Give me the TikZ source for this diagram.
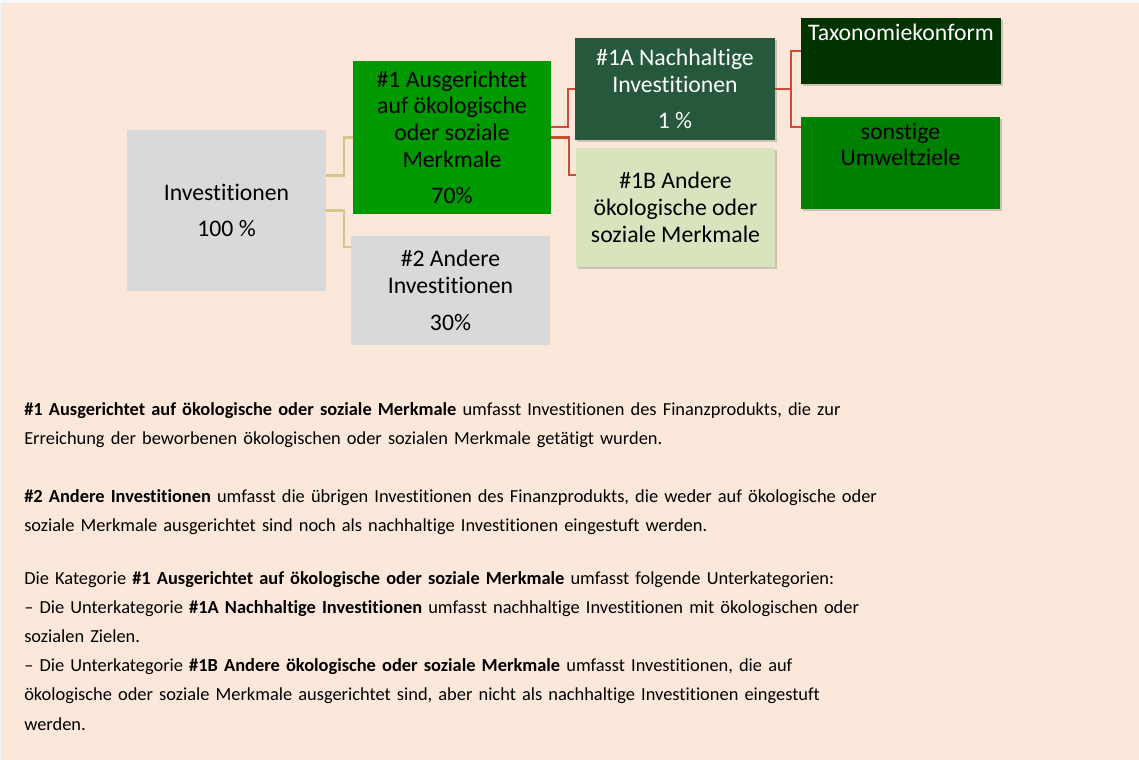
\documentclass[tikz,border=0pt]{standalone}
\usepackage{fontspec}
\setmainfont{Carlito}[Ligatures=NoCommon]
\usetikzlibrary{shadows}
\definecolor{peach}{HTML}{FBE8DA}
\definecolor{boxgray}{HTML}{D9D9D9}
\definecolor{greenA}{HTML}{009900}
\definecolor{greenB}{HTML}{26593C}
\definecolor{greenC}{HTML}{D7E4BD}
\definecolor{greenD}{HTML}{003300}
\definecolor{greenE}{HTML}{008000}
\definecolor{tanc}{HTML}{D8C58C}
\definecolor{redc}{HTML}{C8502F}
\begin{document}
\begin{tikzpicture}[x=0.75pt,y=-0.75pt,
  box/.style={rectangle, inner sep=0pt, align=center, font=\fontsize{17.8}{20}\selectfont},
  shade/.style={drop shadow={shadow xshift=1.2pt, shadow yshift=-1.2pt, opacity=0.3, fill=black!60}},
  tanline/.style={draw=tanc, line width=1.6pt},
  redline/.style={draw=redc, line width=1.6pt},
  note/.style={anchor=base west, inner sep=0pt, text width=840pt, align=left, font=\fontsize{13.8}{21.9}\selectfont}]
\useasboundingbox (0,0) rectangle (1139,760);
\fill[gray!6] (0,0) rectangle (1139,760);
\fill[peach] (1,3) rectangle (1139,760);

% first level
\node[box, fill=boxgray, minimum width=149.25pt, minimum height=120.75pt] (inv) at (226.5,210.5) {Investitionen\\[7.5pt]100 \%};
\node[box, fill=greenA, minimum width=148.5pt, minimum height=114.75pt] (one) at (452,137.5) {\#1 Ausgerichtet\\auf ökologische\\oder soziale\\Merkmale\\[7.5pt]70\%};
\node[box, fill=boxgray, minimum width=149.25pt, minimum height=81.75pt] (two) at (450.5,290.5) {\#2 Andere\\Investitionen\\[7.5pt]30\%};

% second level
\node[box, shade, fill=greenB, text=white, minimum width=150pt, minimum height=76.5pt] (onea) at (675,89) {\#1A Nachhaltige\\Investitionen\\[7.5pt]1 \%};
\node[box, shade, fill=greenC, minimum width=149.25pt, minimum height=89.25pt] (oneb) at (675.5,207.5) {\#1B Andere\\ökologische oder\\soziale Merkmale};

% third level
\node[box, shade, fill=greenD, minimum width=150pt, minimum height=49.5pt] (taxo) at (901,51) {};
\node[box, anchor=north, text=white] (taxot) at ([yshift=-4.5pt]taxo.north) {Taxonomiekonform};
\node[box, shade, fill=greenE, minimum width=149.25pt, minimum height=69pt] (sonst) at (900.5,163) {};
\node[box, anchor=north] (sonstt) at ([yshift=-4.5pt]sonst.north) {sonstige\\Umweltziele};

% connectors
\draw[tanline] ([yshift=26.25pt]inv.east) -- ++(13.5pt,0) |- (one.west);
\draw[tanline] (inv.east) -- ++(13.5pt,0) |- ([yshift=32.6pt]two.west);
\draw[redline] ([yshift=7.9pt]one.east) -- ++(12.75pt,0) |- (onea.west);
\draw[redline] (one.east) -- ++(13.5pt,0) |- ([yshift=24.4pt]oneb.west);
\draw[redline] (onea.east) -- ++(12pt,0) |- (taxo.west);
\draw[redline] (onea.east) -- ++(12pt,0) |- ([yshift=27pt]sonst.west);

% explanations
\node[note] (txta) at (24,415) {\textbf{\#1 Ausgerichtet auf ökologische oder soziale Merkmale} umfasst Investitionen des Finanzprodukts, die zur\\
Erreichung der beworbenen ökologischen oder sozialen Merkmale getätigt wurden.};
\node[note] (txtb) at (24,502) {\textbf{\#2 Andere Investitionen} umfasst die übrigen Investitionen des Finanzprodukts, die weder auf ökologische oder\\
soziale Merkmale ausgerichtet sind noch als nachhaltige Investitionen eingestuft werden.};
\node[note] (txtc) at (24,584) {Die Kategorie \textbf{\#1 Ausgerichtet auf ökologische oder soziale Merkmale} umfasst folgende Unterkategorien:\\
– Die Unterkategorie \textbf{\#1A Nachhaltige Investitionen} umfasst nachhaltige Investitionen mit ökologischen oder\\
sozialen Zielen.\\
– Die Unterkategorie \textbf{\#1B Andere ökologische oder soziale Merkmale} umfasst Investitionen, die auf\\
ökologische oder soziale Merkmale ausgerichtet sind, aber nicht als nachhaltige Investitionen eingestuft\\
werden.};
\end{tikzpicture}
\end{document}
